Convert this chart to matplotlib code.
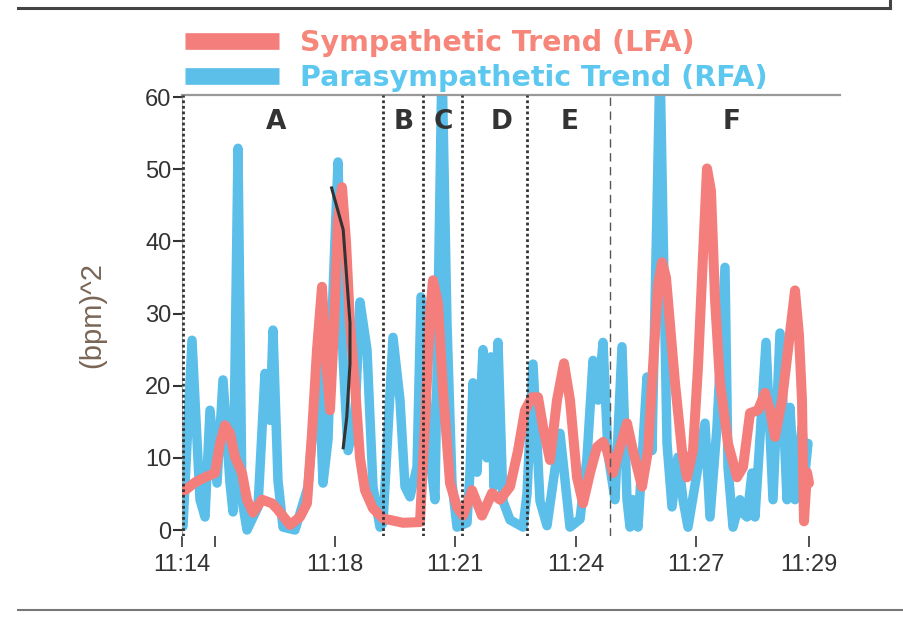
import matplotlib
matplotlib.use("Agg")
import matplotlib.pyplot as plt
from matplotlib.lines import Line2D

# elapsed time in minutes (tick spacing as printed on the chart)
red_t = [0.075, 0.325, 0.575, 0.825, 0.95, 1.075, 1.2, 1.325, 1.5, 1.625, 1.775, 2.0,
         2.25, 2.4, 2.7, 2.95, 3.125, 3.25, 3.375, 3.5, 3.6, 3.7, 3.8, 3.9, 4.0, 4.1,
         4.2, 4.325, 4.45, 4.575, 4.775, 5.025, 5.525, 5.95, 6.075, 6.2, 6.275, 6.4,
         6.525, 6.7, 6.875, 7.025, 7.25, 7.5, 7.75, 7.95, 8.2, 8.4, 8.575, 8.75, 8.9,
         9.025, 9.2, 9.375, 9.55, 9.7, 9.875, 10.025, 10.2, 10.375, 10.525, 10.625,
         10.775, 10.95, 11.125, 11.275, 11.5, 11.65, 11.775, 11.9, 12.0, 12.1, 12.325,
         12.5, 12.625, 12.775, 12.9, 13.025, 13.125, 13.225, 13.325, 13.45, 13.65,
         13.875, 14.025, 14.2, 14.4, 14.575, 14.7, 14.825, 15.0, 15.2, 15.325, 15.425,
         15.5, 15.525, 15.55, 15.625, 15.675]
red_v = [5.5, 6.6, 7.3, 7.9, 12, 14.5, 13.4, 10.1, 7.9, 4.2, 2.4, 4.2,
         3.7, 2.8, 0.7, 1.8, 3.7, 13.4, 25, 33.7, 24, 16.6, 28, 43, 47.5, 40,
         28.6, 20, 10, 5.5, 3.0, 1.6, 1.0, 1.1, 14.8, 30, 34.6, 31.4,
         19.4, 6.5, 3.2, 2.0, 5.5, 2.0, 5.1, 4.2, 6.0, 11, 16.6, 18.4, 18.4,
         14.3, 9.7, 18, 23.1, 18, 7.3, 3.7, 7.9, 11.5, 12.2, 11,
         7.9, 11.5, 14.8, 11, 6.0, 11, 22.6, 34, 37.1, 35, 20.4,
         11, 7.3, 11, 22.6, 38, 50.1, 47, 32, 20.4, 12,
         7.3, 8.7, 16.2, 16.6, 19, 16.6, 12.9, 18, 27.3, 33.2, 27,
         18, 8.7, 1.2, 8, 6.5]

blue_t = [0.025, 0.25, 0.45, 0.575, 0.7, 0.875, 1.025, 1.2, 1.275, 1.4, 1.5, 1.625, 1.9,
          2.075, 2.2, 2.275, 2.4, 2.525, 2.825, 3.15, 3.325, 3.4, 3.525, 3.65, 3.775, 3.9,
          4.025, 4.15, 4.325, 4.45, 4.625, 4.775, 4.95, 5.025, 5.275, 5.45, 5.575, 5.7,
          5.875, 5.975, 6.2, 6.325, 6.5, 6.625, 6.75, 6.875, 7.125, 7.2, 7.275, 7.375,
          7.525, 7.625, 7.725, 7.8, 7.9, 8.025, 8.2, 8.525, 8.625, 8.775, 8.95, 9.125,
          9.45, 9.7, 9.95, 10.125, 10.275, 10.4, 10.525, 10.65, 10.825, 11.0, 11.125,
          11.2, 11.275, 11.4, 11.625, 11.75, 11.95, 12.125, 12.25, 12.4, 12.525, 12.65,
          12.875, 13.075, 13.2, 13.375, 13.575, 13.65, 13.775, 13.95, 14.025, 14.125,
          14.25, 14.325, 14.6, 14.775, 14.95, 15.125, 15.2, 15.325, 15.5, 15.575, 15.65]
blue_v = [0.5, 26.3, 4.2, 1.8, 16.6, 6.5, 20.8, 6.5, 2.5, 52.9, 4.2, 0, 3.2,
          21.7, 15.2, 27.7, 6.8, 0.4, 0, 6, 18, 25, 6.5, 12.5, 33, 51,
          24, 11, 15.6, 31.6, 25, 6, 0.4, 1, 26.7, 18, 6, 4.6,
          8.7, 32.3, 10, 4.2, 65, 28.6, 6.5, 0.4, 1, 8, 20.4, 8,
          25, 10, 24, 6, 26, 4, 1.4, 0.4, 5, 23, 4, 0.6,
          13.4, 0.4, 1.5, 10, 23.5, 18, 26, 10.6, 4.2, 25.4, 4.2,
          0.4, 4.2, 0.4, 21.2, 11, 65, 12, 3.2, 10.1, 4.2, 0.4,
          7.9, 14.8, 1.8, 14.3, 36.4, 8.7, 0.4, 4.2, 2.3, 1.8,
          7.9, 1.8, 26, 4.2, 27.3, 4.2, 17, 4.2, 14.3, 7.9, 12]

# hand-drawn annotation over the big sympathetic peak
mark_t = [3.74, 4.03, 4.2, 4.2, 4.12, 4.03]
mark_v = [47.4, 41.6, 28.7, 23.1, 15.7, 11.4]

bounds = [0.03, 5.03, 6.03, 7.0, 8.63]
f_bound = 10.7
regions = ["A", "B", "C", "D", "E", "F"]
region_t = [2.35, 5.55, 6.53, 8.0, 9.7, 13.75]

tick_t = [0, 0.83, 3.83, 6.83, 9.85, 12.85, 15.68]
tick_lab = ["11:14", "", "11:18", "11:21", "11:24", "11:27", "11:29"]

red = "#F47E7B"
blue = "#5BBFEA"
txt = "#333333"

fig = plt.figure(figsize=(9.04, 6.23), dpi=100)
ax = fig.add_axes([182 / 904, 1 - 536 / 623, 658 / 904, 441 / 623])

ax.plot(blue_t, blue_v, color=blue, lw=6.8, solid_joinstyle="round",
        solid_capstyle="round", zorder=2)
ax.plot(red_t, red_v, color=red, lw=7.2, solid_joinstyle="round",
        solid_capstyle="round", zorder=3)
ax.plot(mark_t, mark_v, color="#333333", lw=2.2, zorder=4)

for b in bounds:
    ax.axvline(b, color="#333333", lw=2, ls=(0, (1, 1)), zorder=5)
ax.axvline(f_bound, color="#555555", lw=1, ls=(0, (6, 4)), zorder=5)

for lab, t in zip(regions, region_t):
    ax.text(t, 56.5, lab, ha="center", va="center", fontsize=19,
            fontweight="bold", color=txt)

ax.set_xlim(0, 16.45)
ax.set_ylim(-0.83, 60.28)
ax.set_yticks(range(0, 61, 10))
ax.set_xticks(tick_t)
ax.set_xticklabels(tick_lab)

for s in ["right", "bottom"]:
    ax.spines[s].set_visible(False)
ax.spines["top"].set_color("#999999")
ax.spines["top"].set_linewidth(1.6)
ax.spines["left"].set_color("#aaaaaa")
ax.spines["left"].set_linewidth(0.8)

ax.tick_params(axis="y", direction="out", length=6.5, width=1.5, color=txt,
               labelsize=17, labelcolor=txt, pad=1)
ax.tick_params(axis="x", direction="out", length=8, width=1.2, color=txt,
               labelsize=17, labelcolor=txt, pad=5)
for lab in ax.get_xticklabels() + ax.get_yticklabels():
    lab.set_family(["Liberation Sans", "DejaVu Sans"])

ax.set_ylabel("(bpm)^2", fontsize=21, color="#7a6656",
              family=["Liberation Sans", "DejaVu Sans"], labelpad=28)

handles = [Line2D([], [], color=red, lw=12, solid_capstyle="butt"),
           Line2D([], [], color=blue, lw=12, solid_capstyle="butt")]
leg = fig.legend(handles, ["Sympathetic Trend (LFA)", "Parasympathetic Trend (RFA)"],
                 loc="upper left", bbox_to_anchor=(185 / 904, 1 - 29 / 623),
                 frameon=False, borderpad=0, borderaxespad=0, handlelength=3.3,
                 handletextpad=0.75, labelspacing=0.25,
                 prop={"size": 20.5, "weight": "bold"})
for t, c in zip(leg.get_texts(), ["#F7867A", "#5CC8F0"]):
    t.set_color(c)

# frame lines from the scanned page
fig.add_artist(Line2D([18 / 904, 890 / 904], [1 - 8 / 623, 1 - 8 / 623],
                      color="#444444", lw=2.2, transform=fig.transFigure))
fig.add_artist(Line2D([890 / 904, 890 / 904], [1, 1 - 8 / 623],
                      color="#444444", lw=2.2, transform=fig.transFigure))
fig.add_artist(Line2D([18 / 904, 1], [1 - 610 / 623, 1 - 610 / 623],
                      color="#777777", lw=1.5, transform=fig.transFigure))

fig.savefig("out.png", dpi=100)
